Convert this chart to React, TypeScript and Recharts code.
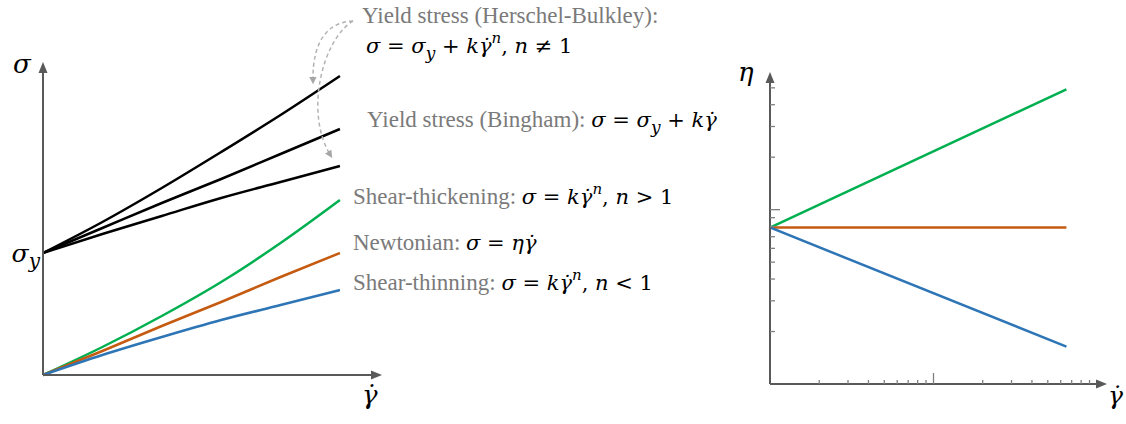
import { LineChart, Line, XAxis, YAxis, ReferenceDot } from "recharts";

// shear stress vs shear rate (arbitrary units)
const rate = [0, 2, 4, 6, 8, 10];
const yieldStress = 12.2;
const hbThickening = [12.2, 15.3, 18.7, 22.3, 26.0, 29.9];
const bingham = [12.2, 14.7, 17.2, 19.6, 22.1, 24.6];
const hbThinning = [12.2, 14.1, 15.9, 17.7, 19.3, 20.9];
const thickening = [0, 2.8, 5.9, 9.3, 13.2, 17.5];
const newtonian = [0, 2.4, 4.9, 7.3, 9.8, 12.2];
const thinning = [0, 2.0, 3.8, 5.5, 7.0, 8.5];

// viscosity vs shear rate, log-log
const rateLog = [1, 65];
const etaThickening = [7.9, 49];
const etaNewtonian = [7.9, 7.9];
const etaThinning = [7.9, 1.64];
const rateTicks = [2, 3, 4, 5, 6, 7, 8, 9, 10, 20, 30, 40, 50, 60, 70, 80, 90];
const etaTicks = [2, 3, 4, 5, 6, 7, 8, 9, 10, 20, 30, 40, 50];

const AXIS = "#595959";
const TICK = "#808080";
const TEXT = "#7a7a7a";
const SERIF = "'Liberation Serif', 'Times New Roman', serif";
const MATH = "'DejaVu Serif', serif";
const GREEN = "#00b050";
const ORANGE = "#c55a11";
const BLUE = "#2e75b6";
const DOT = "\u0307";

const flowRows = rate.map((x, i) => ({
  x,
  hbThickening: hbThickening[i],
  bingham: bingham[i],
  hbThinning: hbThinning[i],
  thickening: thickening[i],
  newtonian: newtonian[i],
  thinning: thinning[i],
}));

const viscRows = rateLog.map((x, i) => ({
  x,
  thickening: etaThickening[i],
  newtonian: etaNewtonian[i],
  thinning: etaThinning[i],
}));

const ArrowRight = (p: any) => (
  <path d={`M${p.cx - 1},${p.cy - 4.5} L${p.cx + 10},${p.cy} L${p.cx - 1},${p.cy + 4.5} Z`} fill={AXIS} />
);
const ArrowUp = (p: any) => (
  <path d={`M${p.cx - 4.5},${p.cy + 1} L${p.cx},${p.cy - 10} L${p.cx + 4.5},${p.cy + 1} Z`} fill={AXIS} />
);

const SigmaYTick = (p: any) => (
  <text x={p.x - 3} y={p.y + 9} textAnchor="end" fontFamily={MATH} fontStyle="italic" fontSize={25} fill="#000">
    σ<tspan fontSize={20} dy={6}>y</tspan>
  </text>
);

// log ticks drawn inside the axes, decade tick longer
const RateTick = (p: any) => {
  const len = p.payload.value === 10 ? 11 : 4;
  return <line x1={p.x} x2={p.x} y1={p.y} y2={p.y - len} stroke={TICK} strokeWidth={1.3} />;
};
const EtaTick = (p: any) => {
  const len = p.payload.value === 10 ? 10 : 5;
  return <line x1={p.x} x2={p.x + len} y1={p.y} y2={p.y} stroke={TICK} strokeWidth={1.3} />;
};

function Annotations() {
  const sup = { dy: -10, fontSize: 15, fontStyle: "italic" as const };
  const sub = { dy: 6, fontSize: 17, fontStyle: "italic" as const };
  return (
    <svg width={1126} height={424} style={{ position: "absolute", left: 0, top: 0, pointerEvents: "none" }}>
      <defs>
        <marker id="grayHead" viewBox="0 0 10 10" refX="7" refY="5" markerWidth="5" markerHeight="5" orient="auto">
          <path d="M0,0 L10,5 L0,10 Z" fill="#a6a6a6" />
        </marker>
      </defs>
      <path d="M353,21 C330,22 312,38 313,82" fill="none" stroke="#b3b3b3" strokeWidth={1.5} strokeDasharray="4 3" markerEnd="url(#grayHead)" />
      <path d="M353,21 C322,40 304,114 331,156" fill="none" stroke="#b3b3b3" strokeWidth={1.5} strokeDasharray="4 3" markerEnd="url(#grayHead)" />

      {/* axis symbols */}
      <text x={13} y={73} fontFamily={MATH} fontStyle="italic" fontSize={26}>σ</text>
      <text x={362} y={404} fontFamily={MATH} fontStyle="italic" fontSize={26}>γ{DOT}</text>
      <text x={738} y={81} fontFamily={MATH} fontStyle="italic" fontSize={26}>η</text>
      <text x={1108} y={404} fontFamily={MATH} fontStyle="italic" fontSize={25}>γ{DOT}</text>

      <g fontFamily={SERIF} fontSize={23} fill={TEXT}>
        <text x={362} y={23}>Yield stress (Herschel-Bulkley):</text>
        <text x={366} y={53} fontFamily={MATH} fontSize={21} fill="#000">
          <tspan fontStyle="italic">σ</tspan>{" = "}<tspan fontStyle="italic">σ</tspan>
          <tspan {...sub}>y</tspan>
          <tspan dy={-6}>{" + "}</tspan><tspan fontStyle="italic">kγ{DOT}</tspan>
          <tspan {...sup}>n</tspan><tspan dy={10}>{",  "}</tspan>
          <tspan fontStyle="italic">n</tspan>{" ≠ 1"}
        </text>

        <text x={367} y={127}>
          {"Yield stress (Bingham): "}
          <tspan fontFamily={MATH} fontSize={21} fill="#000">
            <tspan fontStyle="italic">σ</tspan>{" = "}<tspan fontStyle="italic">σ</tspan>
            <tspan {...sub}>y</tspan>
            <tspan dy={-6}>{" + "}</tspan><tspan fontStyle="italic">kγ{DOT}</tspan>
          </tspan>
        </text>

        <text x={353} y={204}>
          {"Shear-thickening: "}
          <tspan fontFamily={MATH} fontSize={21} fill="#000">
            <tspan fontStyle="italic">σ</tspan>{" = "}<tspan fontStyle="italic">kγ{DOT}</tspan>
            <tspan {...sup}>n</tspan><tspan dy={10}>{",  "}</tspan>
            <tspan fontStyle="italic">n</tspan>{" > 1"}
          </tspan>
        </text>

        <text x={353} y={250}>
          {"Newtonian: "}
          <tspan fontFamily={MATH} fontSize={21} fill="#000">
            <tspan fontStyle="italic">σ</tspan>{" = "}<tspan fontStyle="italic">ηγ{DOT}</tspan>
          </tspan>
        </text>

        <text x={353} y={290}>
          {"Shear-thinning: "}
          <tspan fontFamily={MATH} fontSize={21} fill="#000">
            <tspan fontStyle="italic">σ</tspan>{" = "}<tspan fontStyle="italic">kγ{DOT}</tspan>
            <tspan {...sup}>n</tspan><tspan dy={10}>{",  "}</tspan>
            <tspan fontStyle="italic">n</tspan>{" < 1"}
          </tspan>
        </text>
      </g>
    </svg>
  );
}

export default function App() {
  return (
    <div style={{ position: "absolute", left: 0, top: 0, width: 1126, height: 424, background: "#fff" }}>
      {/* flow curves */}
      <div style={{ position: "absolute", left: 0, top: 0 }}>
        <LineChart width={400} height={424} data={flowRows} margin={{ top: 72, right: 28, bottom: 0, left: 0 }}>
          <XAxis
            dataKey="x"
            type="number"
            domain={[0, 11.08]}
            height={49}
            tick={false}
            tickLine={false}
            axisLine={{ stroke: AXIS, strokeWidth: 2 }}
          />
          <YAxis
            type="number"
            domain={[0, 30.3]}
            width={43}
            ticks={[yieldStress]}
            interval={0}
            tick={SigmaYTick}
            tickLine={false}
            tickSize={0}
            tickMargin={0}
            axisLine={{ stroke: AXIS, strokeWidth: 2 }}
          />
          <ReferenceDot x={11.08} y={0} ifOverflow="visible" shape={ArrowRight} />
          <ReferenceDot x={0} y={30.3} ifOverflow="visible" shape={ArrowUp} />
          <Line type="monotone" dataKey="hbThickening" stroke="#000" strokeWidth={2.5} dot={false} activeDot={false} isAnimationActive={false} />
          <Line type="monotone" dataKey="bingham" stroke="#000" strokeWidth={2.5} dot={false} activeDot={false} isAnimationActive={false} />
          <Line type="monotone" dataKey="hbThinning" stroke="#000" strokeWidth={2.5} dot={false} activeDot={false} isAnimationActive={false} />
          <Line type="monotone" dataKey="thickening" stroke={GREEN} strokeWidth={2.5} dot={false} activeDot={false} isAnimationActive={false} />
          <Line type="monotone" dataKey="newtonian" stroke={ORANGE} strokeWidth={2.5} dot={false} activeDot={false} isAnimationActive={false} />
          <Line type="monotone" dataKey="thinning" stroke={BLUE} strokeWidth={2.5} dot={false} activeDot={false} isAnimationActive={false} />
        </LineChart>
      </div>

      {/* viscosity curves, log-log */}
      <div style={{ position: "absolute", left: 700, top: 0 }}>
        <LineChart width={426} height={424} data={viscRows} margin={{ top: 82, right: 29, bottom: 0, left: 0 }}>
          <XAxis
            dataKey="x"
            type="number"
            scale="log"
            domain={[1, 100]}
            allowDataOverflow
            height={40}
            ticks={rateTicks}
            interval={0}
            tick={RateTick}
            tickLine={false}
            tickSize={0}
            tickMargin={0}
            axisLine={{ stroke: AXIS, strokeWidth: 2 }}
          />
          <YAxis
            type="number"
            scale="log"
            domain={[1, 54]}
            allowDataOverflow
            width={70}
            ticks={etaTicks}
            interval={0}
            tick={EtaTick}
            tickLine={false}
            tickSize={0}
            tickMargin={0}
            axisLine={{ stroke: AXIS, strokeWidth: 2 }}
          />
          <ReferenceDot x={100} y={1} ifOverflow="visible" shape={ArrowRight} />
          <ReferenceDot x={1} y={54} ifOverflow="visible" shape={ArrowUp} />
          <Line type="linear" dataKey="thickening" stroke={GREEN} strokeWidth={2.5} dot={false} activeDot={false} isAnimationActive={false} />
          <Line type="linear" dataKey="newtonian" stroke={ORANGE} strokeWidth={2.5} dot={false} activeDot={false} isAnimationActive={false} />
          <Line type="linear" dataKey="thinning" stroke={BLUE} strokeWidth={2.5} dot={false} activeDot={false} isAnimationActive={false} />
        </LineChart>
      </div>

      <Annotations />
    </div>
  );
}
